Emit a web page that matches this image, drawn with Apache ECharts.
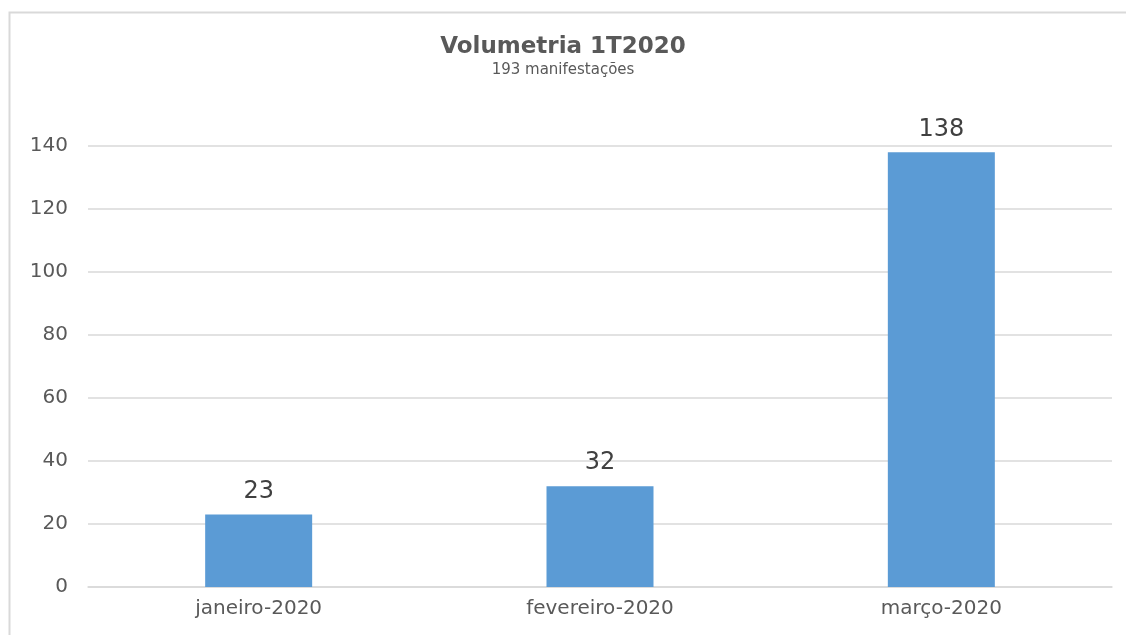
<!DOCTYPE html>
<html><head><meta charset="utf-8">
<script src="https://cdn.jsdelivr.net/npm/echarts@6/dist/echarts.min.js"></script>
<style>html,body{margin:0;padding:0;background:#fff}#c{width:1126px;height:635px}</style>
</head><body><div id="c"></div>
<script>
const categories = ['janeiro-2020', 'fevereiro-2020', 'março-2020'];
const values = [23, 32, 138];
const titleText = 'Volumetria 1T2020';
const subtitleText = '193 manifestações';
const font = "'DejaVu Sans', Verdana, sans-serif";
const chart = echarts.init(document.getElementById('c'));
chart.setOption({
  animation: false,
  backgroundColor: '#fff',
  graphic: [{type:'rect', shape:{x:9.5,y:12.5,width:1130,height:640}, style:{fill:'none',stroke:'#d9d9d9',lineWidth:2}, z:-1}],
  title: {text: titleText, subtext: subtitleText, left: 'center', top: 31, itemGap: 4,
    textStyle: {fontFamily: font, fontSize: 23, fontWeight: 'bold', color: '#595959'},
    subtextStyle: {fontFamily: font, fontSize: 15, color: '#595959'}},
  grid: {left: 88, right: 14, top: 146, bottom: 48},
  xAxis: {type: 'category', data: categories,
    axisLine: {lineStyle: {color: '#d9d9d9', width: 1.5}}, axisTick: {show: false},
    axisLabel: {fontFamily: font, fontSize: 20, color: '#595959', margin: 12}},
  yAxis: {type: 'value', min: 0, max: 140, interval: 20,
    axisLine: {show: false}, axisTick: {show: false},
    splitLine: {lineStyle: {color: '#d9d9d9', width: 1.5}},
    axisLabel: {fontFamily: font, fontSize: 20, color: '#595959', margin: 20}},
  series: [{type: 'bar', data: values, barWidth: 107,
    itemStyle: {color: '#5b9bd5'},
    label: {show: true, position: 'top', distance: 11, fontFamily: font, fontSize: 24, color: '#404040'}}]
});
</script></body></html>
